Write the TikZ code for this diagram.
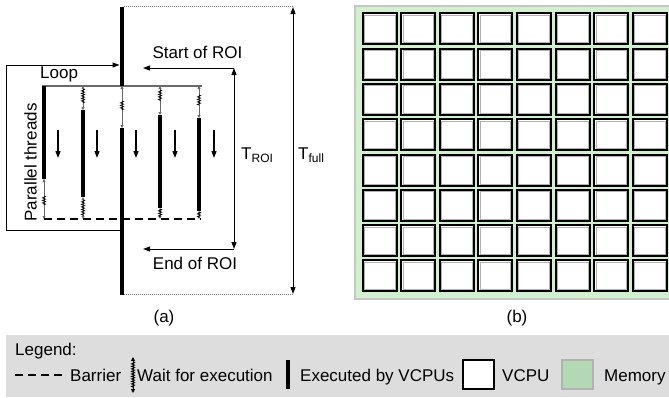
\documentclass[tikz,border=0pt]{standalone}
\usepackage{fontspec}
\setmainfont{Liberation Sans}
\usetikzlibrary{arrows.meta,decorations.pathmorphing}
\definecolor{memgreen}{RGB}{210,240,208}
\definecolor{memleg}{RGB}{180,216,180}
\definecolor{leggray}{RGB}{221,221,221}
\definecolor{thingray}{RGB}{105,105,105}
\newcommand{\waitseg}[5]{%
  \draw[waitl] (#1,#2) -- (#1,#3);
  \draw[zz] (#1,#4) -- (#1,#5);}
\begin{document}
\begin{tikzpicture}[x=1pt,y=-1pt,
  font=\fontsize{17}{20}\selectfont,
  lbl/.style={anchor=base,inner sep=0pt},
  bar/.style={line width=4.5pt},
  arr/.style={-{Triangle[length=7pt,width=5pt]},line width=1pt},
  dbl/.style={{Triangle[length=7pt,width=5pt]}-{Triangle[length=7pt,width=5pt]},line width=1pt},
  waitl/.style={draw=thingray,line width=0.8pt,{Triangle[length=3pt,width=3pt]}-{Triangle[length=3pt,width=3pt]}},
  zz/.style={decorate,decoration={zigzag,segment length=2.5pt,amplitude=1.6pt},line width=0.7pt},
  barrier/.style={line width=1.8pt,dash pattern=on 8pt off 5pt},
  dotl/.style={draw=gray,line width=1pt,dash pattern=on 1pt off 1pt},
  cell/.style={fill=white,draw=black,line width=2pt}]
\useasboundingbox (0,0) rectangle (669,397);

% ---------- panel (a) ----------
\draw[dotl] (124,6.5) -- (293,6.5);
\draw[dotl] (124,294) -- (293,294);
\draw[dbl] (293,7) -- (293,294);

\draw[thingray,line width=1.1pt] (42,86) -- (202,86);

% bars
\draw[bar] (122,7) -- (122,86);
\draw[bar] (122,128) -- (122,295);
\draw[bar] (44,86) -- (44,179);
\draw[bar] (83,110) -- (83,197);
\draw[bar] (160,115) -- (160,208);
\draw[bar] (199,118) -- (199,211);

% wait segments
\waitseg{83}{86}{110}{89}{103}
\waitseg{122}{86}{128}{101}{110}
\waitseg{160}{86}{115}{90}{101}
\waitseg{199}{86}{118}{95}{105}
\waitseg{44}{179}{219}{196}{205}
\waitseg{83}{197}{219}{200}{216}
\waitseg{160}{208}{219}{209}{217}
\waitseg{199}{211}{219}{212}{218}

% barrier
\draw[barrier] (44,219) -- (201,219);

% down arrows
\foreach \x in {58,97,136,175,214}
  \draw[arr,line width=1.2pt] (\x,130) -- (\x,158);

% loop
\draw[arr] (120,230) -- (6,230) -- (6,65) -- (119.5,65);
\node[lbl,anchor=base west] at (40,78) {Loop};
\node[lbl,rotate=90] at (36.5,162.5) {Parallel threads};

% ROI
\draw[arr] (234,68) -- (143,68);
\draw[dbl] (234,68) -- (234,249);
\draw[arr] (234,249) -- (143,249);
\node[lbl] at (197.5,58) {Start of ROI};
\node[lbl] at (195,269) {End of ROI};
\node[lbl,anchor=base west] at (241,159) {T\raisebox{-3.5pt}{\fontsize{12}{12}\selectfont ROI}};
\node[lbl,anchor=base west] at (298,159) {T\raisebox{-3.5pt}{\fontsize{12}{12}\selectfont full}};

\node[lbl] at (164,322) {(a)};

% ---------- panel (b) ----------
\draw[draw=gray!45,line width=2pt,fill=memgreen] (355,6) rectangle (672,299);
\foreach \i in {0,...,7}
  \foreach \j in {0,...,7} {
    \draw[cell] ({362.7+38.57*\i},{13.3+35.3*\j}) rectangle ++(34,31);
    \draw[gray!60,line width=0.6pt] ({362.7+38.57*\i+1.7},{13.3+35.3*\j+1.7}) rectangle ++(30.6,27.6);
  }
\node[lbl] at (517,322) {(b)};

% ---------- legend ----------
\fill[leggray] (6,335) rectangle (669,397);
\node[lbl,anchor=base west] at (15,355) {Legend:};
\draw[line width=1.6pt,dash pattern=on 8pt off 5pt] (15,375) -- (63,375);
\node[lbl,anchor=base west] at (70,381) {Barrier};
\draw[black,line width=0.8pt,{Triangle[length=4pt,width=4pt]}-{Triangle[length=4pt,width=4pt]}] (133,357) -- (133,393);
\draw[zz,line width=0.8pt] (133,362) -- (133,388);
\node[lbl,anchor=base west] at (137,381) {Wait for execution};
\draw[bar] (288,360) -- (288,389);
\node[lbl,anchor=base west] at (300,381) {Executed by VCPUs};
\draw[fill=white,line width=2pt] (463,360) rectangle (494,389);
\node[lbl,anchor=base west] at (502,381) {VCPU};
\draw[fill=memleg,draw=gray!60,line width=1.5pt] (562,360) rectangle (593,389);
\node[lbl,anchor=base west] at (604,381) {Memory};
\end{tikzpicture}
\end{document}
